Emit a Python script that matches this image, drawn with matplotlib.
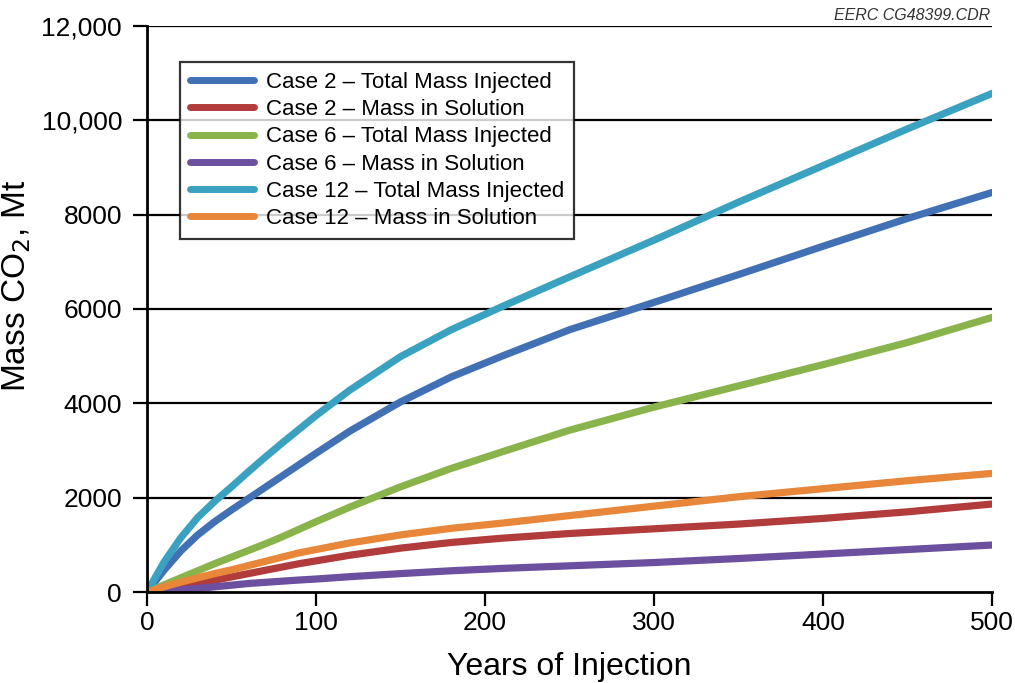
#! /usr/bin/env python3
import matplotlib
matplotlib.use('Agg')
import matplotlib.pyplot as plt

plt.rcParams['font.family'] = ['Liberation Sans', 'DejaVu Sans']

years = [0, 10, 20, 30, 40, 50, 60, 70, 80, 90, 100, 120, 150, 180, 210,
         250, 300, 350, 400, 450, 500]

case2_total = [0, 460, 870, 1210, 1490, 1740, 1980, 2220, 2460, 2700, 2940, 3410,
               4030, 4560, 5000, 5560, 6140, 6730, 7330, 7920, 8470]
case2_solution = [0, 60, 120, 180, 250, 320, 390, 460, 530, 600, 660, 780,
                  930, 1050, 1140, 1240, 1340, 1440, 1560, 1700, 1865]
case6_total = [0, 150, 300, 450, 600, 740, 880, 1020, 1170, 1330, 1490, 1800,
               2230, 2620, 2970, 3430, 3920, 4370, 4820, 5290, 5820]
case6_solution = [0, 20, 45, 75, 110, 145, 180, 205, 230, 254, 275, 325,
                  390, 450, 500, 555, 625, 710, 805, 900, 996]
case12_total = [0, 630, 1150, 1580, 1920, 2230, 2550, 2860, 3160, 3450, 3740, 4280,
                4990, 5560, 6050, 6680, 7460, 8265, 9040, 9820, 10570]
case12_solution = [0, 110, 210, 300, 390, 470, 560, 650, 740, 830, 900, 1040,
                   1210, 1350, 1460, 1620, 1820, 2020, 2190, 2360, 2515]

labels = ['Case 2 \u2013 Total Mass Injected', 'Case 2 \u2013 Mass in Solution',
          'Case 6 \u2013 Total Mass Injected', 'Case 6 \u2013 Mass in Solution',
          'Case 12 \u2013 Total Mass Injected', 'Case 12 \u2013 Mass in Solution']
colors = ['#4170b5', '#b23b3b', '#89b34b', '#6d4f9f', '#3aa2c0', '#e8873a']

y_ticks = [0, 2000, 4000, 6000, 8000, 10000, 12000]
y_tick_labels = ['0', '2000', '4000', '6000', '8000', '10,000', '12,000']
x_ticks = [0, 100, 200, 300, 400, 500]

fig = plt.figure(figsize=(10.15, 6.83), dpi=100)
ax = fig.add_axes([147/1015, 1 - 592/683, (992-147)/1015, (592-26)/683])

series = [case2_total, case2_solution, case6_total, case6_solution, case12_total, case12_solution]
for vals, lab, col in zip(series, labels, colors):
    ax.plot(years, vals, color=col, lw=5.2, label=lab, solid_capstyle='round',
            solid_joinstyle='round', zorder=3)

for yv in y_ticks[1:]:
    ax.axhline(yv, color='black', lw=1.6, zorder=1)

ax.set_xlim(0, 500)
ax.set_ylim(0, 12000)
ax.set_xticks(x_ticks)
ax.set_yticks(y_ticks)
ax.set_yticklabels(y_tick_labels)
ax.tick_params(axis='both', direction='out', length=10, width=1.6, labelsize=19)
ax.tick_params(axis='y', pad=8)
ax.tick_params(axis='x', pad=4)

for s in ['top', 'right']:
    ax.spines[s].set_visible(False)
for s in ['left', 'bottom']:
    ax.spines[s].set_linewidth(2)
    ax.spines[s].set_zorder(4)

ax.set_xlabel('Years of Injection', fontsize=23, labelpad=12)
ax.set_ylabel('Mass CO$_2$, Mt', fontsize=24)
ax.yaxis.set_label_coords(-0.135, 0.542)

leg = ax.legend(loc='upper left', bbox_to_anchor=(33/845, 1 - 36/566), fontsize=16,
                frameon=True, fancybox=False, handlelength=2.9, handletextpad=0.5,
                labelspacing=0.28, borderpad=0.45, borderaxespad=0)
leg.get_frame().set_edgecolor('black')
leg.get_frame().set_linewidth(1.6)
leg.set_zorder(5)
for line in leg.get_lines():
    line.set_linewidth(5)

fig.text(990/1015, 1 - 16/683, 'EERC CG48399.CDR', ha='right', va='center',
         fontsize=11.5, style='italic', color='#333333')

plt.savefig('out.png', dpi=100)
